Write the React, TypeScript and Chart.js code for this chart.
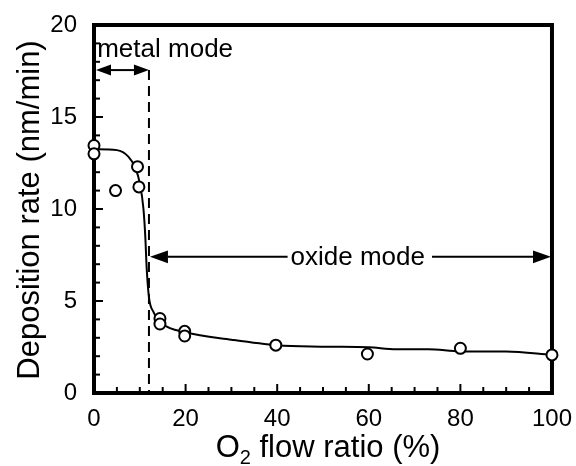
import { useEffect, useRef } from "react";
import { Chart, registerables } from "chart.js";

Chart.register(...registerables);

// Measured points: O2 flow ratio (%) vs deposition rate (nm/min)
const measuredX = [0, 0, 4.7, 9.5, 9.8, 14.4, 14.4, 19.8, 19.8, 39.7, 59.7, 80, 100];
const measuredY = [13.45, 13.0, 11.0, 12.3, 11.2, 4.05, 3.75, 3.35, 3.1, 2.6, 2.12, 2.43, 2.07];

// Guide-to-the-eye curve
const fitX = [0, 5, 7.5, 9, 10, 10.8, 11.2, 11.5, 12, 13, 15, 20, 30, 40, 50, 60, 66, 73, 80, 90, 100];
const fitY = [13.25, 13.2, 12.85, 12.25, 11.4, 10.0, 8.5, 6.8, 5.2, 4.4, 3.75, 3.3, 2.9, 2.6, 2.52, 2.48, 2.38, 2.38, 2.26, 2.25, 2.07];

// Axes
const xRange = [0, 100];
const yRange = [0, 20];
const xMajorStep = 20;
const xMinorStep = 5;
const yMajorStep = 5;
const yMinorStep = 1;

// Annotations
const modeBoundary = 12;
const metalArrow = { from: 0, to: 12, y: 17.55 };
const metalLabel = { text: "metal mode", x: 0.7, y: 18.24 };
const oxideArrow = { from: 12, to: 100, y: 7.4 };
const oxideLabel = { text: "oxide mode", x: 57.6, y: 6.96 };
const xTitle = { main: "O", sub: "2", rest: " flow ratio (%)" };
const yTitle = "Deposition rate (nm/min)";

const FONT = "'Liberation Sans', Arial, sans-serif";

function drawArrowHead(ctx: CanvasRenderingContext2D, tipX: number, y: number, dir: number, len: number, hw: number) {
  ctx.beginPath();
  ctx.moveTo(tipX, y);
  ctx.lineTo(tipX - dir * len, y - hw);
  ctx.lineTo(tipX - dir * len, y + hw);
  ctx.closePath();
  ctx.fill();
}

const decorPlugin = {
  id: "decor",
  beforeDatasetsDraw(chart: any) {
    const { ctx, chartArea: a, scales } = chart;
    const x = scales.x;
    const y = scales.y;
    ctx.save();
    ctx.strokeStyle = "#000";
    ctx.fillStyle = "#000";
    ctx.lineCap = "butt";

    // inward tick marks (bottom and left)
    ctx.lineWidth = 2;
    for (let v = xRange[0]; v <= xRange[1] + 1e-9; v += xMinorStep) {
      const px = x.getPixelForValue(v);
      const len = Math.abs(v % xMajorStep) < 1e-9 ? 9 : 6;
      ctx.beginPath();
      ctx.moveTo(px, a.bottom);
      ctx.lineTo(px, a.bottom - len);
      ctx.stroke();
    }
    for (let v = yRange[0]; v <= yRange[1] + 1e-9; v += yMinorStep) {
      const py = y.getPixelForValue(v);
      const len = Math.abs(v % yMajorStep) < 1e-9 ? 9 : 6;
      ctx.beginPath();
      ctx.moveTo(a.left, py);
      ctx.lineTo(a.left + len, py);
      ctx.stroke();
    }

    // frame
    ctx.lineWidth = 4;
    ctx.strokeRect(a.left, a.top, a.right - a.left, a.bottom - a.top);

    // dashed boundary line
    const bx = x.getPixelForValue(modeBoundary);
    ctx.lineWidth = 2;
    ctx.setLineDash([10, 6]);
    ctx.beginPath();
    ctx.moveTo(bx, y.getPixelForValue(metalArrow.y));
    ctx.lineTo(bx, a.bottom);
    ctx.stroke();
    ctx.setLineDash([]);

    // metal mode arrow
    {
      const x1 = x.getPixelForValue(metalArrow.from) + 2;
      const x2 = x.getPixelForValue(metalArrow.to);
      const py = y.getPixelForValue(metalArrow.y);
      const len = 15;
      const hw = 5.5;
      ctx.lineWidth = 2;
      ctx.beginPath();
      ctx.moveTo(x1 + len, py);
      ctx.lineTo(x2 - len, py);
      ctx.stroke();
      drawArrowHead(ctx, x1, py, -1, len, hw);
      drawArrowHead(ctx, x2, py, 1, len, hw);
    }

    // texts
    ctx.font = `26px ${FONT}`;
    ctx.textBaseline = "alphabetic";
    ctx.textAlign = "left";
    ctx.fillText(metalLabel.text, x.getPixelForValue(metalLabel.x), y.getPixelForValue(metalLabel.y));

    // oxide mode arrow with gap for text
    {
      const x1 = x.getPixelForValue(oxideArrow.from) + 1;
      const x2 = x.getPixelForValue(oxideArrow.to) - 1;
      const py = y.getPixelForValue(oxideArrow.y);
      const cx = x.getPixelForValue(oxideLabel.x);
      const tw = ctx.measureText(oxideLabel.text).width;
      const gap = 3;
      const len = 18;
      const hw = 6.3;
      ctx.lineWidth = 2;
      ctx.beginPath();
      ctx.moveTo(x1 + len, py);
      ctx.lineTo(cx - tw / 2 - gap, py);
      ctx.moveTo(cx + tw / 2 + gap + 4, py);
      ctx.lineTo(x2 - len, py);
      ctx.stroke();
      drawArrowHead(ctx, x1, py, -1, len, hw);
      drawArrowHead(ctx, x2, py, 1, len, hw);
      ctx.textAlign = "center";
      ctx.fillText(oxideLabel.text, cx, y.getPixelForValue(oxideLabel.y));
    }

    // axis titles
    {
      ctx.textAlign = "left";
      ctx.font = `31px ${FONT}`;
      const wMain = ctx.measureText(xTitle.main).width;
      const wRest = ctx.measureText(xTitle.rest).width;
      ctx.font = `20px ${FONT}`;
      const wSub = ctx.measureText(xTitle.sub).width;
      const total = wMain + wSub + wRest;
      const cx = (a.left + a.right) / 2 + 5;
      const base = a.bottom + 64;
      let sx = cx - total / 2;
      ctx.font = `31px ${FONT}`;
      ctx.fillText(xTitle.main, sx, base);
      sx += wMain;
      ctx.font = `20px ${FONT}`;
      ctx.fillText(xTitle.sub, sx, base + 7);
      sx += wSub;
      ctx.font = `31px ${FONT}`;
      ctx.fillText(xTitle.rest, sx, base);

      ctx.save();
      ctx.translate(39, (a.top + a.bottom) / 2 + 1);
      ctx.rotate(-Math.PI / 2);
      ctx.textAlign = "center";
      ctx.textBaseline = "alphabetic";
      ctx.fillText(yTitle, 0, 0);
      ctx.restore();
    }

    ctx.restore();
  },
};

export default function App() {
  const canvasRef = useRef<HTMLCanvasElement | null>(null);

  useEffect(() => {
    document.body.style.margin = "0";
    const canvas = canvasRef.current;
    if (!canvas) return;
    const chart = new Chart(canvas, {
      type: "scatter",
      data: {
        datasets: [
          {
            label: "measured",
            data: measuredX.map((v, i) => ({ x: v, y: measuredY[i] })),
            showLine: false,
            pointStyle: "circle",
            pointRadius: 5.5,
            pointBorderWidth: 2,
            pointBorderColor: "#000",
            pointBackgroundColor: "#fff",
            clip: false,
            order: 0,
          },
          {
            label: "fit",
            data: fitX.map((v, i) => ({ x: v, y: fitY[i] })),
            showLine: true,
            borderColor: "#000",
            borderWidth: 2,
            pointRadius: 0,
            cubicInterpolationMode: "monotone",
            fill: false,
            clip: false,
            order: 1,
          },
        ],
      },
      options: {
        animation: false,
        responsive: false,
        devicePixelRatio: 1,
        layout: { padding: { top: 25, right: 21, left: 0, bottom: 0 }, autoPadding: false },
        plugins: { legend: { display: false }, tooltip: { enabled: false }, title: { display: false } },
        scales: {
          x: {
            type: "linear",
            min: xRange[0],
            max: xRange[1],
            grid: { display: false },
            border: { display: false },
            ticks: {
              stepSize: xMajorStep,
              color: "#000",
              padding: 4,
              maxRotation: 0,
              font: { family: FONT, size: 24 },
            },
            afterFit(scale: any) {
              scale.height = 73;
            },
          },
          y: {
            type: "linear",
            min: yRange[0],
            max: yRange[1],
            grid: { display: false },
            border: { display: false },
            ticks: {
              stepSize: yMajorStep,
              color: "#000",
              padding: 9,
              font: { family: FONT, size: 24 },
            },
            afterFit(scale: any) {
              scale.width = 94;
            },
          },
        },
      },
      plugins: [decorPlugin],
    } as any);
    return () => chart.destroy();
  }, []);

  return (
    <div style={{ width: 576, height: 466 }}>
      <canvas ref={canvasRef} width={576} height={466} style={{ width: 576, height: 466, display: "block" }} />
    </div>
  );
}
